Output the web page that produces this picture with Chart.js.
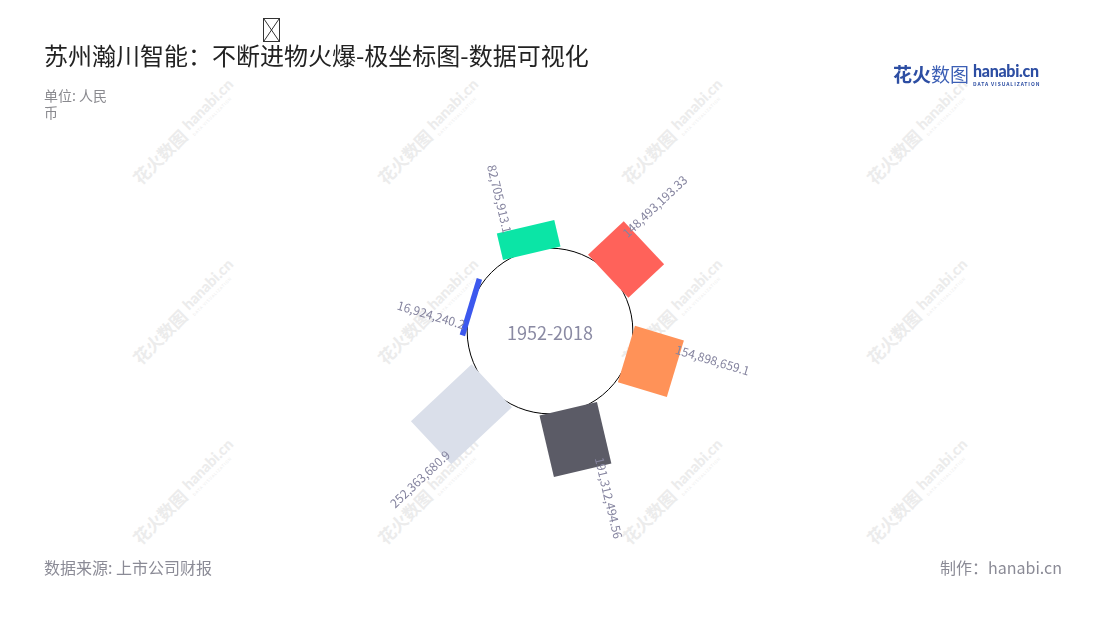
<!DOCTYPE html>
<html lang="zh">
<head>
<meta charset="utf-8">
<title>苏州瀚川智能：不断进物火爆-极坐标图-数据可视化</title>
<script src="https://cdn.jsdelivr.net/npm/chart.js@4.4.0/dist/chart.umd.min.js"></script>
<style>
  html, body { margin: 0; padding: 0; background: #fff; }
  body { font-family: "Noto Sans CJK SC", "Noto Sans", sans-serif; }
  #wrap { position: relative; width: 1100px; height: 620px; overflow: hidden; }
  #chart { position: absolute; left: 0; top: 0; }
  .title { position: absolute; left: 44px; top: 38px; font-size: 24px; line-height: 34px; color: #222; white-space: nowrap; }
  .tofu { position: absolute; left: 263px; top: 18px; width: 17px; height: 24px; }
  .unit { position: absolute; left: 44px; top: 87px; font-size: 14px; line-height: 17px; color: #8a8a8f; }
  .source { position: absolute; left: 44px; top: 556px; font-size: 16px; line-height: 22px; color: #8b8b96; }
  .credit { position: absolute; right: 38px; top: 556px; font-size: 16px; line-height: 22px; color: #8b8b96; }
  .logo { position: absolute; left: 893px; top: 62px; display: flex; align-items: center; color: #2d4ea3; }
  .logo .cn { font-size: 19px; font-weight: 700; line-height: 24px; }
  .logo .cn span { font-weight: 400; color: #3c5fb5; }
  .logo .en { margin-left: 4px; display: flex; flex-direction: column; line-height: 1; }
  .logo .en b { font-family: "Lato", sans-serif; font-size: 16px; font-weight: 900; letter-spacing: -0.3px; }
  .logo .en i { font-style: normal; font-size: 5px; letter-spacing: 0.9px; margin-top: 2px; font-weight: 700; }
  .wm { position: absolute; transform: translate(-50%, -50%) rotate(-45deg); display: flex; align-items: center; color: #ececec; white-space: nowrap; }
  .wm .cn { font-size: 17px; font-weight: 700; }
  .wm .en { margin-left: 5px; display: flex; flex-direction: column; line-height: 1; }
  .wm .en b { font-family: "Lato", sans-serif; font-size: 15px; font-weight: 900; }
  .wm .en i { font-style: normal; font-size: 4px; letter-spacing: 0.8px; margin-top: 2px; }
</style>
</head>
<body>
<div id="wrap">
  <div id="marks"></div>
  <canvas id="chart" width="1100" height="620"></canvas>
  <div class="title">苏州瀚川智能：不断进物火爆-极坐标图-数据可视化</div>
  <svg class="tofu" viewBox="0 0 17 24"><rect x="0.5" y="0.5" width="16" height="23" fill="none" stroke="#333" stroke-width="1"/><path d="M1 1 L16 23 M16 1 L1 23" stroke="#333" stroke-width="1"/></svg>
  <div class="unit">单位: 人民<br>币</div>
  <div class="logo"><div class="cn">花火<span>数图</span></div><div class="en"><b>hanabi.cn</b><i>DATA VISUALIZATION</i></div></div>
  <div class="source">数据来源: 上市公司财报</div>
  <div class="credit">制作：hanabi.cn</div>
</div>
<script>
// 数据 (单位: 人民币)
const categories = ['1', '2', '3', '4', '5', '6'];
const values = [16924240.2, 82705913.1, 148493193.33, 154898659.1, 191312494.56, 252363680.9];
const barColors = ['#3c58ee', '#0be5a6', '#ff625a', '#ff9258', '#5b5b66', '#dadfea'];
const centerLabel = '1952-2018';

// 水印
const marks = document.getElementById('marks');
for (let r = 0; r < 3; r++) {
  for (let c = 0; c < 4; c++) {
    const d = document.createElement('div');
    d.className = 'wm';
    d.style.left = (184 + c * 244.5) + 'px';
    d.style.top = (132 + r * 180) + 'px';
    d.innerHTML = '<div class="cn">花火数图</div><div class="en"><b>hanabi.cn</b><i>DATA VISUALIZATION</i></div>';
    marks.appendChild(d);
  }
}

const BAR_W = 59;
const fmt = v => v.toLocaleString('en-US', { maximumFractionDigits: 2 });

// 极坐标柱: 从内圈向外画矩形, 长度按 r 轴换算
const polarBars = {
  id: 'polarBars',
  beforeDatasetsDraw(chart) {
    const s = chart.scales.r, ctx = chart.ctx;
    const r0 = s.getDistanceFromCenterForValue(0);
    ctx.save();
    ctx.beginPath();
    ctx.arc(s.xCenter, s.yCenter, r0 + 3, 0, Math.PI * 2);
    ctx.strokeStyle = '#000';
    ctx.lineWidth = 1;
    ctx.stroke();
    ctx.fillStyle = '#8a8aa3';
    ctx.font = '18px "Noto Sans CJK SC"';
    ctx.textAlign = 'center';
    ctx.textBaseline = 'middle';
    ctx.fillText(centerLabel, s.xCenter, s.yCenter + 2);
    ctx.restore();
  },
  afterDatasetsDraw(chart) {
    const s = chart.scales.r, ctx = chart.ctx;
    const r0 = s.getDistanceFromCenterForValue(0);
    const data = chart.data.datasets[0].data;
    data.forEach((v, i) => {
      const r1 = s.getDistanceFromCenterForValue(v);
      const a = s.getPointPosition(i, r1).angle;
      ctx.save();
      ctx.translate(s.xCenter, s.yCenter);
      ctx.rotate(a);
      ctx.fillStyle = barColors[i];
      ctx.fillRect(r0, -BAR_W / 2, r1 - r0, BAR_W);
      ctx.restore();
    });
    data.forEach((v, i) => {
      const r1 = s.getDistanceFromCenterForValue(v);
      const a = s.getPointPosition(i, r1).angle;
      ctx.save();
      ctx.translate(s.xCenter, s.yCenter);
      ctx.rotate(a);
      ctx.translate(r1 + 33, -19);
      if (Math.cos(a) < 0) ctx.rotate(Math.PI);
      ctx.fillStyle = '#85849f';
      ctx.font = '12px "Noto Sans CJK SC"';
      ctx.textAlign = 'center';
      ctx.textBaseline = 'middle';
      ctx.fillText(fmt(v), 0, 0);
      ctx.restore();
    });
  }
};

new Chart(document.getElementById('chart'), {
  type: 'radar',
  data: {
    labels: categories,
    datasets: [{
      data: values,
      borderColor: 'rgba(0,0,0,0)',
      backgroundColor: 'rgba(0,0,0,0)',
      pointRadius: 0,
      pointHoverRadius: 0,
      fill: false
    }]
  },
  options: {
    responsive: false,
    animation: false,
    events: [],
    layout: { padding: { top: 42, bottom: 0, left: 0, right: 0 } },
    plugins: { legend: { display: false }, tooltip: { enabled: false } },
    scales: {
      r: {
        // 0 落在内圈 (约80px), 约0.33px/百万
        min: -242e6,
        max: 634e6,
        startAngle: -73.2,
        ticks: { display: false },
        grid: { display: false },
        angleLines: { display: false },
        pointLabels: { display: false }
      }
    }
  },
  plugins: [polarBars]
});
</script>
</body>
</html>
